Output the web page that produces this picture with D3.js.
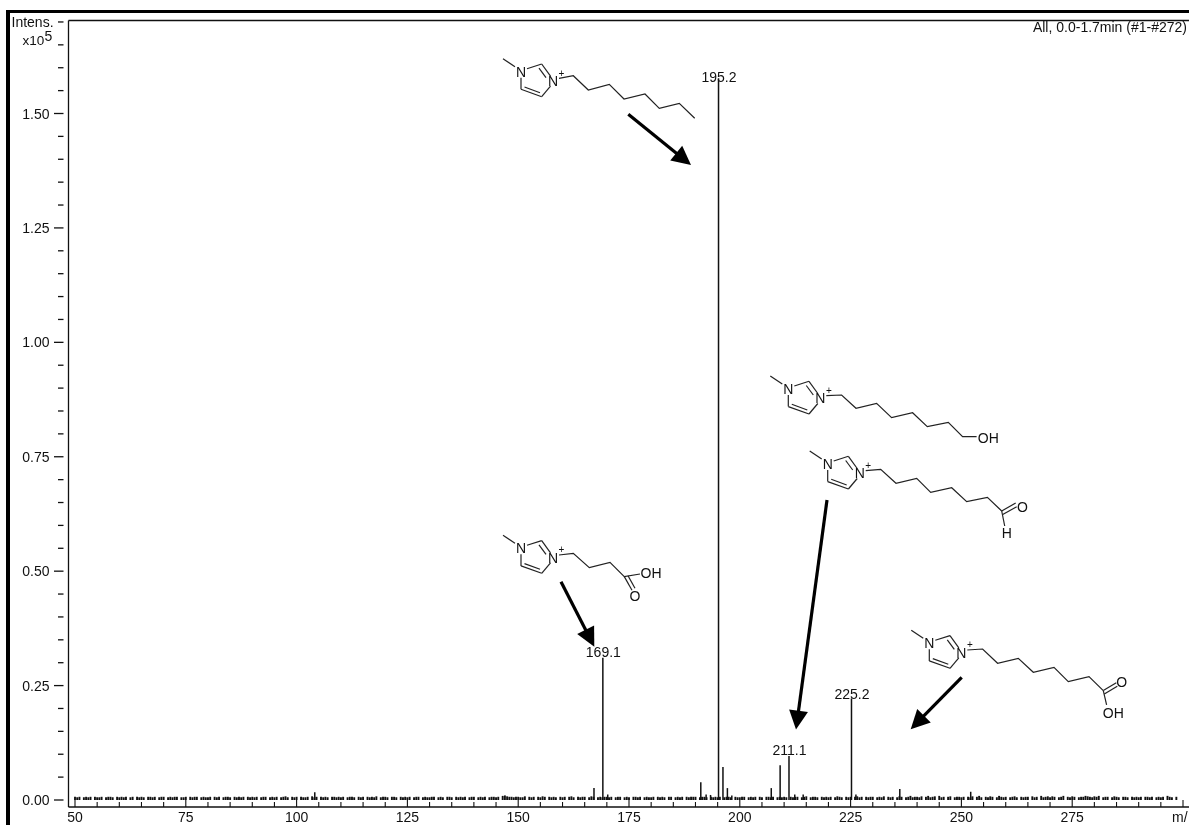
<!DOCTYPE html>
<html><head><meta charset="utf-8">
<script src="https://cdnjs.cloudflare.com/ajax/libs/d3/7.8.5/d3.min.js"></script>
<style>html,body{margin:0;padding:0;background:#fff;overflow:hidden}svg{display:block;filter:blur(.35px)}text{font-family:"Liberation Sans",Arial,sans-serif;fill:#111}</style>
</head><body><svg id="c" width="1189" height="825"></svg>
<script>
const peakMz=[169.1,195.2,196.2,197.2,209.1,211.1,225.2,191.2,207.1,167.1,192.4,193.4,198.2,226.2,236.1,252.1,104.1,170.2,212.4,214.3];
const peakVal=[.311,1.577,.072,.026,.076,.096,.222,.039,.026,.026,.012,.011,.010,.012,.024,.018,.017,.012,.012,.012];
const labelMz=[169.1,195.2,211.1,225.2];
const labelTxt=["169.1","195.2","211.1","225.2"];
const xTicks=[50,75,100,125,150,175,200,225,250,275];
const yTicks=[0,.25,.5,.75,1,1.25,1.5];
const noiseStart=50;
const noiseStep=.5;
// baseline noise, thousandths of the 10^5 unit, 20 values per 10 m/z
const noise=[
7,6,7,0,6,7,6,7,0,7,6,6,7,0,6,7,7,6,0,7,
6,7,6,7,0,6,7,0,7,6,7,6,0,7,7,6,7,0,6,7,
7,0,6,7,6,7,7,0,6,6,7,0,7,6,7,7,0,6,7,6,
6,7,0,7,6,7,0,6,7,7,6,0,7,6,7,6,7,0,7,6,
7,6,7,0,6,7,7,0,6,7,6,7,0,6,7,8,6,0,7,6,
7,0,7,6,6,7,0,8,6,7,0,7,6,7,6,0,7,7,6,7,
6,7,0,6,7,7,6,0,7,6,7,0,7,6,7,6,8,0,6,7,
7,6,0,7,7,6,0,7,6,7,6,7,0,6,7,7,0,6,7,6,
6,7,7,0,6,7,6,0,7,7,6,0,7,6,7,6,7,0,6,7,
7,0,6,7,6,7,0,6,7,7,6,7,0,9,10,8,7,7,6,7,
7,6,6,8,0,7,6,7,0,7,6,8,7,0,7,6,7,6,0,7,
6,7,0,7,8,6,0,7,6,7,7,0,6,8,7,0,6,7,6,7,
7,6,7,0,6,7,7,0,6,7,6,0,7,7,6,7,0,6,7,6,
6,7,0,7,6,7,6,0,7,7,0,6,7,6,7,0,7,6,7,7,
7,0,6,7,7,6,0,7,6,7,6,7,0,6,7,7,6,0,7,6,
6,7,7,0,6,7,6,7,0,7,6,0,7,7,6,7,0,6,7,6,
7,6,0,7,6,7,7,0,6,7,8,0,6,7,7,6,0,7,6,7,
6,7,0,6,8,7,6,0,7,6,7,0,7,8,6,7,0,7,6,7,
7,0,6,7,6,8,0,7,6,7,0,6,8,7,0,6,7,9,6,7,
7,6,8,0,7,9,6,7,8,0,9,6,7,0,7,8,0,6,7,7,
6,7,0,7,6,8,0,7,9,6,0,7,6,8,7,0,6,9,7,6,
7,0,6,7,8,6,0,7,6,7,7,0,8,6,7,0,9,6,7,8,
6,8,7,0,6,7,9,0,7,6,8,7,0,6,7,7,9,8,7,6,
8,7,9,0,6,7,7,0,6,8,7,6,0,7,7,6,0,7,6,7,
6,7,0,7,7,6,7,0,6,7,6,7,0,9,7,6,0,7];
const W=1189,H=825;
const svg=d3.select("#c");
const x=d3.scaleLinear().domain([50,300]).range([75,1183]);
const y=d3.scaleLinear().domain([0,1.5]).range([800,113.5]);
const axisY=807,axisX=68.5,topY=20.5;
const ink="#111";
svg.append("rect").attr("x",6).attr("y",10).attr("width",4).attr("height",H-10).attr("fill","#000");
svg.append("rect").attr("x",6).attr("y",10).attr("width",W-6).attr("height",3).attr("fill","#000");
svg.append("line").attr("x1",axisX).attr("x2",W).attr("y1",topY).attr("y2",topY).attr("stroke",ink).attr("stroke-width",1.3);
svg.append("line").attr("x1",axisX).attr("x2",axisX).attr("y1",topY).attr("y2",axisY).attr("stroke",ink).attr("stroke-width",1.3);
svg.append("line").attr("x1",axisX).attr("x2",W).attr("y1",axisY).attr("y2",axisY).attr("stroke",ink).attr("stroke-width",1.5);
const xMinor=d3.range(50,305,5);
svg.selectAll(".xm").data(xMinor).join("line").attr("x1",d=>x(d)).attr("x2",d=>x(d))
  .attr("y1",axisY).attr("y2",d=>d%25===0?axisY-7:axisY-5).attr("stroke",ink).attr("stroke-width",1.1);
svg.selectAll(".xl").data(xTicks).join("text").attr("x",d=>x(d)).attr("y",822).attr("text-anchor","middle").attr("font-size",14).text(d=>d);
svg.append("text").attr("x",1172).attr("y",822).attr("font-size",14).text("m/");
const yMinor=d3.range(0,35).map(i=>i*.05);
svg.selectAll(".ym").data(yMinor).join("line").attr("y1",d=>y(d)).attr("y2",d=>y(d))
  .attr("x1",(d,i)=>i%5===0?54:58).attr("x2",63.5).attr("stroke",ink).attr("stroke-width",1.3);
svg.selectAll(".yl").data(yTicks).join("text").attr("x",49.5).attr("y",d=>y(d)+5).attr("text-anchor","end").attr("font-size",14).text(d=>d3.format(".2f")(d));
svg.append("text").attr("x",11.5).attr("y",27).attr("font-size",14).text("Intens.");
svg.append("text").attr("x",22.5).attr("y",45).attr("font-size",13.5).text("x10");
svg.append("text").attr("x",44.5).attr("y",41).attr("font-size",14).text("5");
svg.append("text").attr("x",1187).attr("y",32).attr("text-anchor","end").attr("font-size",14).text("All, 0.0-1.7min (#1-#272)");
svg.selectAll(".n").data(noise).join("line")
  .attr("x1",(d,i)=>x(noiseStart+i*noiseStep)).attr("x2",(d,i)=>x(noiseStart+i*noiseStep))
  .attr("y1",y(0)).attr("y2",d=>y(d/1000)).attr("stroke",ink).attr("stroke-width",1.9);
svg.selectAll(".p").data(peakMz).join("line").attr("x1",d=>x(d)).attr("x2",d=>x(d))
  .attr("y1",y(0)).attr("y2",(d,i)=>y(peakVal[i])).attr("stroke",ink).attr("stroke-width",1.5);
svg.selectAll(".pl").data(labelMz).join("text").attr("x",d=>x(d)+.5).attr("y",d=>y(peakVal[peakMz.indexOf(d)])-(d===195.2?-4:d===225.2?-1:1))
  .attr("text-anchor","middle").attr("font-size",14).text((d,i)=>labelTxt[i]);
const g=svg.append("g").attr("fill","none").attr("stroke","#222").attr("stroke-width",1.2);
const line=d3.line();
const ringBonds=[[[-18,-13],[-6,-5]],[[6,-3],[20.7,-7.7]],[[20.7,-7.7],[29.5,4.5]],[[18,-3.5],[25,6]],[[0,6],[0,17.6]],[[0,17.6],[20.7,25]],[[3.5,15.3],[19,21]],[[20.7,25],[29.5,14.5]]];
function mol(ox,oy,chain,extra,labels){
  const t=g.append("g").attr("transform",`translate(${ox},${oy})`);
  ringBonds.forEach(b=>t.append("path").attr("d",line(b)));
  t.append("path").attr("d",line([[38,6.7],...chain]));
  (extra||[]).forEach(b=>t.append("path").attr("d",line(b)));
  const lab=[["N",0,0,14],["N",32,9.3,14],["+",40.5,1.5,10]].concat(labels||[]);
  lab.forEach(l=>t.append("text").attr("x",l[1]).attr("y",l[2]+l[3]*.36).attr("text-anchor","middle").attr("font-size",l[3]).attr("stroke","none").text(l[0]));
}
mol(521,71.7,[[52.3,4],[67.3,18.3],[88.3,12.6],[103,27.3],[124,22.3],[138.3,36.6],[158.3,31.6],[173.7,46.6]]);
mol(788.3,389,[[53.3,6],[67.7,19.3],[88.3,14.3],[103.3,28.7],[124.3,23.7],[139,37.7],[160,33.3],[174.3,47.7],[188.3,47.7]],[],[["OH",200,48.5,14]]);
mol(827.7,464,[[53,5.3],[68.3,19.3],[89,14.3],[103,28.3],[124,23.7],[139,37.7],[159.7,33.3],[174,47]],
  [[[174,47],[188,39]],[[175,50.5],[189,42.7]],[[174,47],[177,62]]],[["O",194.7,43.3,14],["H",179,69.3,14]]);
mol(929.3,643.3,[[53.3,5.7],[68.3,20],[89,15],[104,29],[124.7,24],[139,38.3],[159.7,33.3],[174,47.3]],
  [[[174,47.3],[187,39.5]],[[175,50.8],[188,43]],[[174,47.3],[177.3,61.5]]],[["O",192.3,38.3,14],["OH",184,69.3,14]]);
mol(521,548.3,[[52.3,5],[68.3,19.3],[89,14],[103.3,28.3],[119,25.7]],
  [[[103.3,28.3],[111,42]],[[107,27.5],[114,40]]],[["OH",130,24.3,14],["O",114,47.3,14]]);
function arrow(x0,y0,x1,y1){
  const a=svg.append("g"),L=Math.hypot(x1-x0,y1-y0),ux=(x1-x0)/L,uy=(y1-y0)/L,h=19,w=9.5;
  a.append("line").attr("x1",x0).attr("y1",y0).attr("x2",x1-ux*h*.8).attr("y2",y1-uy*h*.8).attr("stroke","#000").attr("stroke-width",3.2);
  a.append("path").attr("fill","#000").attr("d",line([[x1,y1],[x1-ux*h-uy*w,y1-uy*h+ux*w],[x1-ux*h+uy*w,y1-uy*h-ux*w]])+"Z");
}
arrow(628.3,114.3,691,165);
arrow(561,581.7,594.3,646.7);
arrow(827,500,796,729.5);
arrow(961.7,677.3,910.7,729.3);
</script></body></html>
